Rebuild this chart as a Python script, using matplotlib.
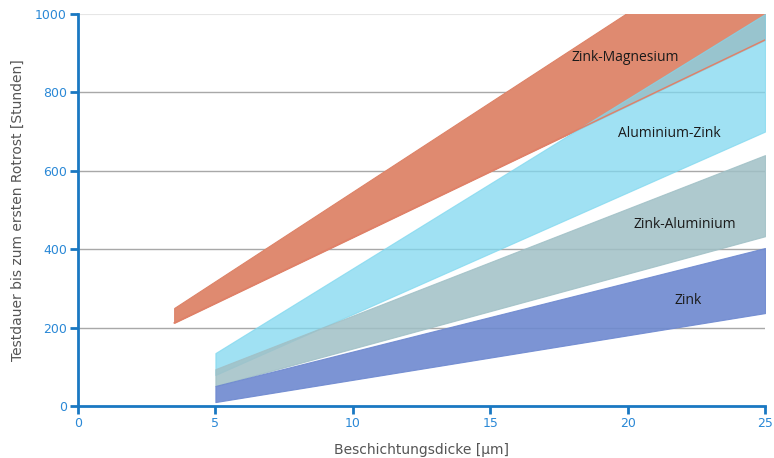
import matplotlib
matplotlib.use("Agg")
import matplotlib.pyplot as plt
import numpy as np

# Data
zm_x = [3.5, 25]
zm_lo = [212, 934]
zm_hi = [250, 1232]

az_x = [5, 25]
az_lo = [79, 700]
az_hi = [135, 1000]

za_x = [5, 25]
za_lo = [51, 433]
za_hi = [94, 640]

z_x = [5, 25]
z_lo = [10, 237]
z_hi = [51, 403]

labels = ["Zink-Magnesium", "Aluminium-Zink", "Zink-Aluminium", "Zink"]
label_pos = [(19.9, 888), (21.5, 696), (22.1, 462), (22.2, 270)]

xticks = [0, 5, 10, 15, 20, 25]
yticks = [0, 200, 400, 600, 800, 1000]

fig = plt.figure(figsize=(7.74, 4.58), dpi=100)
ax = fig.add_axes([78/774, 52/458, 687/774, 392/458])

axis_blue = "#1a78c2"
tick_blue = "#2a88d6"

# grid
for y in yticks[1:-1]:
    ax.axhline(y, color="#a8a8a8", lw=1, zorder=0)
ax.axhline(1000, color="#e6e6e6", lw=1.5, zorder=0)

ax.fill_between(zm_x, zm_lo, zm_hi, color="#df8a70", lw=0.8, ec="#dd8368", zorder=1)
ax.fill_between(az_x, az_lo, az_hi, color=(128/255, 216/255, 239/255), alpha=0.75, lw=0.8, zorder=2)
ax.plot(zm_x, zm_lo, color="#e08068", lw=1, zorder=2.5)
ax.fill_between(za_x, za_lo, za_hi, color=(160/255, 192/255, 198/255), alpha=0.85, lw=0.8, zorder=3)
ax.fill_between(z_x, z_lo, z_hi, color=(110/255, 137/255, 208/255), alpha=0.9, lw=0.8, zorder=4)

for txt, (x, y) in zip(labels, label_pos):
    ax.text(x, y, txt, ha="center", va="center", fontsize=10, color="#1a1a1a",
            family="Open Sans", zorder=6)

ax.set_xlim(0, 25)
ax.set_ylim(0, 1000)
ax.set_xticks(xticks)
ax.set_yticks(yticks)

for s in ["top", "right"]:
    ax.spines[s].set_visible(False)
for s in ["left", "bottom"]:
    ax.spines[s].set_color(axis_blue)
    ax.spines[s].set_linewidth(2)
    ax.spines[s].set_zorder(7)

ax.tick_params(axis="both", colors=axis_blue, labelcolor=tick_blue, length=6, width=2,
               labelsize=9, direction="out")
ax.tick_params(axis="y", pad=2)
ax.tick_params(axis="x", pad=2)

ax.set_xlabel("Beschichtungsdicke [µm]", fontsize=10, color="#555555", labelpad=9)
ax.set_ylabel("Testdauer bis zum ersten Rotrost [Stunden]", fontsize=10, color="#555555", labelpad=7)

fig.savefig("out.png", dpi=100)
